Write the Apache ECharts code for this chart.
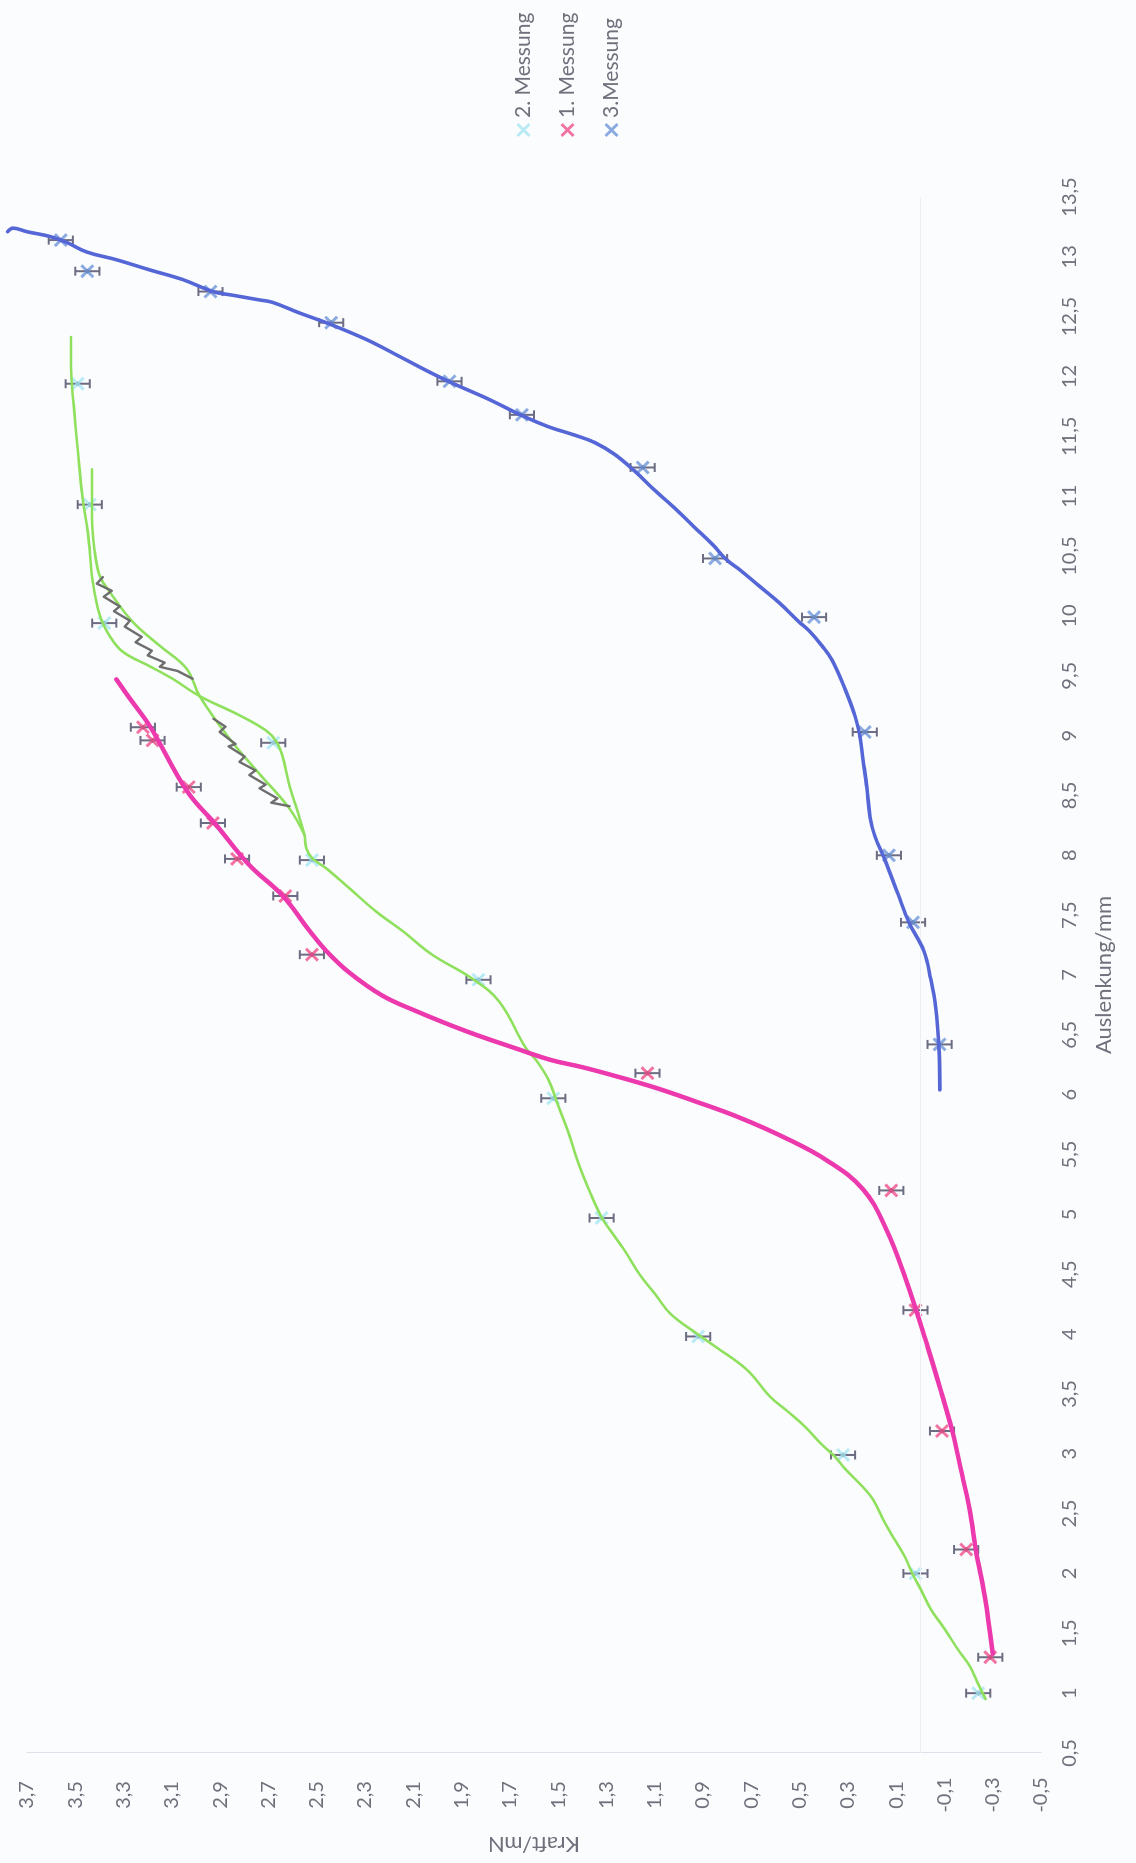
<!DOCTYPE html>
<html>
<head>
<meta charset="utf-8">
<script src="https://cdn.jsdelivr.net/npm/echarts@6/dist/echarts.min.js"></script>
<style>
  html, body { margin: 0; padding: 0; background: #fbfcfe; }
  body { width: 1136px; height: 1863px; overflow: hidden; position: relative; }
  /* the chart is laid out landscape and turned a quarter turn onto the portrait page */
  #chart {
    position: absolute; left: 0; top: 0;
    width: 1863px; height: 1136px;
    transform-origin: 0 0;
    transform: translateY(1863px) rotate(-90deg);
  }
</style>
</head>
<body>
<div id="chart"></div>
<script>
// ---- Messwerte: Auslenkung in mm, Kraft in mN ----
const auslenkung1 = [1.3, 2.2, 3.19, 4.2, 5.2, 6.18, 7.17, 7.66, 7.97, 8.27, 8.57, 8.96, 9.07];
const kraft1      = [-0.29, -0.19, -0.09, 0.02, 0.12, 1.13, 2.52, 2.63, 2.83, 2.93, 3.03, 3.18, 3.22];

const auslenkung2 = [1.0, 2.0, 2.99, 3.98, 4.97, 5.97, 6.96, 7.96, 8.94, 9.94, 10.93, 11.94];
const kraft2      = [-0.24, 0.02, 0.32, 0.92, 1.32, 1.52, 1.83, 2.52, 2.68, 3.38, 3.44, 3.49];

const auslenkung3 = [6.42, 7.44, 8.0, 9.03, 9.99, 10.48, 11.24, 11.68, 11.96, 12.45, 12.71, 12.88, 13.14];
const kraft3      = [-0.08, 0.03, 0.13, 0.23, 0.44, 0.85, 1.15, 1.65, 1.95, 2.44, 2.94, 3.45, 3.56];

// Fehlerbalken der Kraft (±, mN)
const kraftFehler = 0.05;

// ---- von Hand eingezeichnete Ausgleichskurven [Auslenkung, Kraft] ----
const kurve1 = [
  [1.33,-0.30],[1.81,-0.267],[2.2,-0.23],[2.53,-0.205],[2.87,-0.168],[3.17,-0.135],[3.5,-0.089],
  [3.89,-0.031],[4.48,0.064],[4.88,0.142],[5.21,0.237],[5.45,0.386],[5.64,0.56],[5.81,0.75],
  [5.95,0.94],[6.06,1.10],[6.16,1.27],[6.23,1.40],[6.29,1.53],[6.39,1.68],[6.53,1.88],[6.70,2.09],
  [6.83,2.23],[7.02,2.365],[7.2,2.46],[7.37,2.53],[7.66,2.64],[7.92,2.78],[8.25,2.915],[8.53,3.035],
  [9.075,3.19],[9.31,3.274],[9.47,3.33]
];

const kurve2a = [
  [0.95,-0.271],[1.083,-0.238],[1.225,-0.205],[1.367,-0.155],[1.533,-0.102],[1.7,-0.044],[1.867,-0.002],
  [1.99,0.031],[2.14,0.064],[2.28,0.105],[2.42,0.146],[2.62,0.196],[2.74,0.246],[2.875,0.312],
  [2.975,0.353],[3.083,0.411],[3.225,0.477],[3.35,0.547],[3.475,0.621],[3.7,0.717],[3.89,0.845],
  [4.0,0.923],[4.17,1.035],[4.33,1.097],[4.5,1.163],[4.7,1.225],[4.875,1.287],[4.975,1.32],
  [5.17,1.365],[5.42,1.415],[5.7,1.46],[5.92,1.502],[6.12,1.539],[6.28,1.588],[6.39,1.634],
  [6.78,1.745],[6.975,1.86],[7.17,2.022],[7.37,2.146],[7.53,2.254],[7.725,2.365],[7.89,2.46],
  [7.975,2.518],[8.06,2.543],[8.17,2.551],[8.37,2.58],[8.58,2.613],[8.83,2.642],[8.95,2.667],
  [9.04,2.708],[9.17,2.82],[9.33,2.985],[9.475,3.097],[9.58,3.192],[9.7,3.303],[9.83,3.357],
  [10.0,3.398],[10.28,3.427],[10.7,3.448],[10.975,3.469],[11.37,3.489],[11.75,3.506],[12.08,3.518],
  [12.33,3.518]
];

const kurve2b = [
  [8.17,2.551],[8.39,2.613],[8.68,2.737],[8.975,2.861],[9.33,2.985],[9.56,3.039],[9.75,3.15],
  [9.95,3.262],[10.2,3.357],[10.33,3.398],[10.53,3.419],[10.81,3.431],[11.225,3.431]
];

const kurve3 = [
  [6.04,-0.081],[6.4,-0.077],[6.725,-0.064],[6.96,-0.044],[7.2,-0.015],[7.44,0.047],[7.68,0.093],
  [7.96,0.146],[8.16,0.188],[8.32,0.208],[8.56,0.221],[8.8,0.237],[8.99,0.25],[9.16,0.27],
  [9.39,0.312],[9.63,0.365],[9.75,0.407],[9.875,0.46],[9.95,0.502],[10.11,0.584],[10.25,0.667],
  [10.39,0.75],[10.47,0.803],[10.59,0.857],[10.75,0.94],[10.91,1.022],[11.05,1.1],[11.21,1.183],
  [11.35,1.266],[11.45,1.35],[11.51,1.431],[11.58,1.539],[11.67,1.646],[11.81,1.787],[11.95,1.944],
  [12.06,2.055],[12.17,2.159],[12.31,2.295],[12.44,2.448],[12.53,2.57],[12.62,2.683],[12.64,2.737],
  [12.68,2.85],[12.71,2.93],[12.81,3.055],[12.89,3.19],[12.975,3.328],[13.04,3.452],[13.12,3.535],
  [13.17,3.605],[13.21,3.70],[13.24,3.758],[13.21,3.78]
];

// Bleistift-Zickzack neben der grünen Kurve
const bleistiftOben = [
  [10.325,3.386],[10.27,3.411],[10.21,3.349],[10.16,3.382],[10.08,3.316],[10.04,3.34],[9.96,3.274],
  [9.91,3.295],[9.825,3.225],[9.78,3.25],[9.71,3.183],[9.67,3.2],[9.61,3.13],[9.575,3.15],
  [9.54,3.076],[9.475,3.014]
];
const bleistiftUnten = [
  [9.14,2.927],[9.075,2.878],[9.03,2.902],[8.93,2.836],[8.91,2.865],[8.825,2.799],[8.78,2.82],
  [8.71,2.754],[8.67,2.779],[8.59,2.712],[8.56,2.737],[8.475,2.663],[8.44,2.688],[8.41,2.613]
];

// ---- Darstellung ----
const FONT = 'Lato, "Open Sans", "Noto Sans", sans-serif';
const TEXT = '#70707c';
const X_SYMBOL = 'path://M0,1.5L1.5,0L5,3.5L8.5,0L10,1.5L6.5,5L10,8.5L8.5,10L5,6.5L1.5,10L0,8.5L3.5,5Z';
const komma = v => String(Math.round(v * 10) / 10).replace('.', ',');

const punkte = (xs, ys) => xs.map((x, i) => [x, ys[i]]);
const fehlerDaten = (xs, ys) => xs.map((x, i) => [x, ys[i], kraftFehler]);

function fehlerBalken(params, api) {
  const a = api.value(0), k = api.value(1), f = api.value(2);
  const oben = api.coord([a, k + f]);
  const unten = api.coord([a, k - f]);
  const mitte = api.coord([a, k]);
  const cap = 4.5;
  const st = { stroke: '#6c6c82', lineWidth: 2 };
  return {
    type: 'group',
    children: [
      { type: 'line', shape: { x1: oben[0], y1: oben[1], x2: unten[0], y2: unten[1] }, style: st },
      { type: 'line', shape: { x1: oben[0] - cap, y1: oben[1], x2: oben[0] + cap, y2: oben[1] }, style: st },
      { type: 'line', shape: { x1: unten[0] - cap, y1: unten[1], x2: unten[0] + cap, y2: unten[1] }, style: st },
      { type: 'circle', shape: { cx: mitte[0], cy: mitte[1], r: 2.2 }, style: { fill: '#55556a' } }
    ]
  };
}

function messReihe(name, xs, ys, farbe) {
  return [
    {
      name: 'Fehler ' + name, type: 'custom', renderItem: fehlerBalken,
      data: fehlerDaten(xs, ys), encode: { x: 0, y: 1 }, z: 2, silent: true
    },
    {
      name: name, type: 'scatter', data: punkte(xs, ys),
      symbol: X_SYMBOL, symbolSize: 14, itemStyle: { color: farbe }, z: 3
    }
  ];
}

function kurve(name, data, farbe, breite, glatt) {
  return {
    name: name, type: 'line', data: data, showSymbol: false, symbol: 'none',
    smooth: glatt, clip: false, silent: true, z: 6,
    lineStyle: { color: farbe, width: breite, cap: 'round', join: 'round' }
  };
}

const chart = echarts.init(document.getElementById('chart'), null, { renderer: 'canvas' });

const nulllinie = kurve('Nulllinie', [], '#eceff4', 1, false);
nulllinie.markLine = {
  silent: true, symbol: 'none', animation: false,
  label: { show: false },
  lineStyle: { color: '#eceff4', width: 1, type: 'solid' },
  data: [{ yAxis: 0 }]
};

chart.setOption({
  animation: false,
  backgroundColor: '#fbfcfe',
  textStyle: { fontFamily: FONT },
  grid: { left: 106, right: 197, top: 27, bottom: 95 },
  legend: {
    orient: 'vertical', left: 1721, top: 508,
    itemWidth: 14, itemHeight: 14, itemGap: 23,
    textStyle: { fontFamily: FONT, fontSize: 21, color: TEXT, lineHeight: 21 },
    data: [
      { name: '2. Messung', icon: X_SYMBOL },
      { name: '1. Messung', icon: X_SYMBOL },
      { name: '3.Messung', icon: X_SYMBOL }
    ]
  },
  xAxis: {
    type: 'value', min: 0.5, max: 13.5, interval: 0.5,
    name: 'Auslenkung/mm', nameLocation: 'middle', nameGap: 52,
    nameTextStyle: { fontFamily: FONT, fontSize: 22, color: TEXT },
    axisLine: { show: false }, axisTick: { show: false }, splitLine: { show: false },
    axisLabel: { formatter: komma, fontFamily: FONT, fontSize: 20, color: TEXT, margin: 19,
                 showMinLabel: true, showMaxLabel: true }
  },
  yAxis: {
    type: 'value', min: -0.5, max: 3.7, interval: 0.2,
    name: 'Kraft/mN', nameLocation: 'middle', nameGap: 80,
    nameTextStyle: { fontFamily: FONT, fontSize: 22, color: TEXT },
    axisLine: { show: true, onZero: false, lineStyle: { color: '#dce0e8', width: 1 } },
    axisTick: { show: false }, splitLine: { show: false },
    axisLabel: { formatter: komma, fontFamily: FONT, fontSize: 20, color: TEXT, margin: 42,
                 align: 'center', showMinLabel: true, showMaxLabel: true }
  },
  series: [
    nulllinie,
    ...messReihe('2. Messung', auslenkung2, kraft2, '#a8e6f2'),
    ...messReihe('1. Messung', auslenkung1, kraft1, '#f0508c'),
    ...messReihe('3.Messung', auslenkung3, kraft3, '#6f96d8'),
    kurve('Kurve 2a', kurve2a, '#8fe05c', 2.6, 0.4),
    kurve('Kurve 2b', kurve2b, '#8fe05c', 2.6, 0.4),
    kurve('Bleistift oben', bleistiftOben, '#6e6e6e', 2.4, false),
    kurve('Bleistift unten', bleistiftUnten, '#6e6e6e', 2.4, false),
    kurve('Kurve 1', kurve1, '#ec3aae', 4.5, 0.4),
    kurve('Kurve 3', kurve3, '#5566d6', 3.6, 0.4)
  ]
});
</script>
</body>
</html>
